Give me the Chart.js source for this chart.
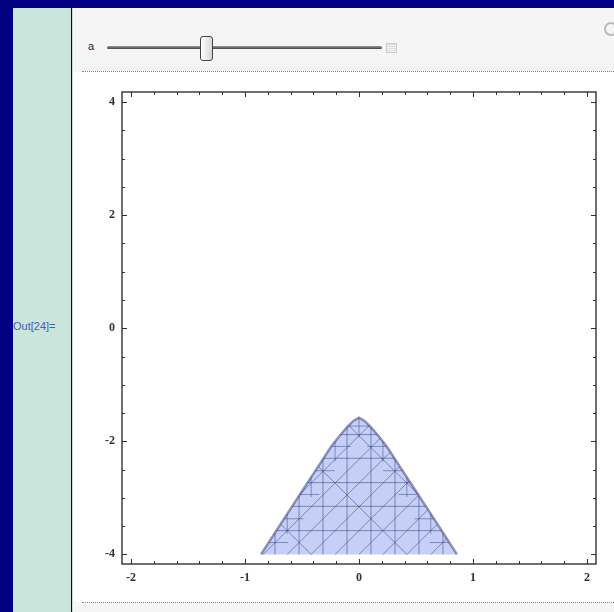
<!DOCTYPE html>
<html>
<head>
<meta charset="utf-8">
<script src="https://cdn.jsdelivr.net/npm/chart.js@4.4.0/dist/chart.umd.min.js"></script>
<style>
html, body { margin: 0; padding: 0; }
body { width: 614px; height: 612px; background: #000080; position: relative; overflow: hidden; font-family: "Liberation Sans", Arial, sans-serif; }
#strip { position: absolute; left: 13px; top: 8px; width: 58px; height: 604px; background: #c9e5dc; }
#panel { position: absolute; left: 72px; top: 8px; width: 542px; height: 604px; background: #f5f5f5; border-left: 1px solid #d4d8d8; }
#plotbox { position: absolute; left: 73px; top: 72px; width: 541px; height: 530px; background: #fff; }
#out { position: absolute; left: 13px; top: 320px; font-size: 11px; color: #4a5ea6; }
#alabel { position: absolute; left: 88px; top: 40px; font-size: 11px; color: #222; }
#track { position: absolute; left: 107px; top: 46px; width: 275px; height: 3px; background: linear-gradient(#999, #444); border-radius: 2px; }
#thumb { position: absolute; left: 200px; top: 36px; width: 11px; height: 23px; border: 1px solid #444; border-radius: 3px; background: linear-gradient(90deg, #fff, #d6d6d6); }
#btn { position: absolute; left: 386px; top: 43px; width: 9px; height: 8px; border: 1px solid #ccc; background: repeating-linear-gradient(#ddd 0 1px, #f4f4f4 1px 2px); }
#icon { position: absolute; left: 604px; top: 22px; width: 10px; height: 10px; border: 2px solid #bbb; border-radius: 50%; }
.dots { position: absolute; left: 82px; width: 532px; height: 0; border-top: 1px dotted #8a8a8a; }
#c { position: absolute; left: 72px; top: 72px; }
</style>
</head>
<body>
<div id="strip"></div>
<div id="panel"></div>
<div id="plotbox"></div>
<div id="out">Out[24]=</div>
<div id="alabel">a</div>
<div id="track"></div>
<div id="thumb"></div>
<div id="btn"></div>
<div id="icon"></div>
<div class="dots" style="top:71px"></div>
<div class="dots" style="top:602px"></div>
<canvas id="c" width="542" height="530"></canvas>
<script>
// axis ticks
const xTickLabels = [-2, -1, 0, 1, 2];
const yTickLabels = [-4, -2, 0, 2, 4];
const xMinorTicks = [-2, -1.8, -1.6, -1.4, -1.2, -1, -0.8, -0.6, -0.4, -0.2, 0, 0.2, 0.4, 0.6, 0.8, 1, 1.2, 1.4, 1.6, 1.8, 2];
const yMinorTicks = [-4, -3.5, -3, -2.5, -2, -1.5, -1, -0.5, 0, 0.5, 1, 1.5, 2, 2.5, 3, 3.5, 4];

// region outline (upper boundary, base is y = -4)
const regionX = [-0.86, -0.7, -0.5, -0.35, -0.25, -0.17, -0.1, -0.05, 0, 0.05, 0.1, 0.17, 0.25, 0.35, 0.5, 0.7, 0.86];
const regionY = [-4, -3.5, -2.88, -2.42, -2.11, -1.9, -1.74, -1.64, -1.58, -1.64, -1.74, -1.9, -2.11, -2.42, -2.88, -3.5, -4];

// mesh lines
const meshVX = [-0.737, -0.526, -0.316, -0.105, 0.105, 0.316, 0.526, 0.737];
const meshHY = [-3.58, -3.15, -2.73, -2.3, -1.88];
const meshDiagUp = [-1.26, -1.05, -0.84, -0.63, -0.42, -0.21, 0, 0.21, 0.42, 0.63];
const meshDiagDown = [-0.42, 0.42, 1.05];
// finer mesh near the boundary
const meshVXFine = [-0.63, -0.42, -0.21, 0, 0.21, 0.42, 0.63];
const meshHYFine = [-3.79, -3.37, -2.94, -2.52, -2.09, -1.73];

function topY(x) {
    if (x < regionX[0] || x > regionX[regionX.length - 1]) return -Infinity;
    for (let i = 0; i < regionX.length - 1; i++) {
        if (x >= regionX[i] && x <= regionX[i + 1]) {
            const t = (x - regionX[i]) / (regionX[i + 1] - regionX[i]);
            return regionY[i] + t * (regionY[i + 1] - regionY[i]);
        }
    }
    return -Infinity;
}

// keep the part of a line that lies inside the region
function clipSegment(x0, y0, dx, dy, tMax) {
    let first = null, last = null;
    for (let t = 0; t <= tMax; t += 0.002) {
        const x = x0 + dx * t, y = y0 + dy * t;
        if (y >= -4 - 1e-9 && y <= topY(x)) {
            if (!first) first = { x, y };
            last = { x, y };
        }
    }
    return first ? [first, last] : null;
}

const segments = [];
meshVX.forEach(c => segments.push(clipSegment(c, -4, 0, 1, 3)));
meshHY.forEach(h => segments.push(clipSegment(-1, h, 1, 0, 2)));
meshDiagUp.forEach(c => segments.push(clipSegment(c, -4, 1, 2, 2)));
meshDiagDown.forEach(c => segments.push(clipSegment(c, -4, -1, 2, 2)));

const fineSegments = [];
meshHYFine.forEach(h => {
    const s = clipSegment(-1, h, 1, 0, 2);
    if (!s) return;
    const w = Math.min(0.17, (s[1].x - s[0].x) / 2);
    fineSegments.push([s[0], { x: s[0].x + w, y: h }]);
    fineSegments.push([{ x: s[1].x - w, y: h }, s[1]]);
});
meshVXFine.forEach(c => {
    const s = clipSegment(c, -4, 0, 1, 3);
    if (!s) return;
    fineSegments.push([{ x: c, y: Math.max(-4, s[1].y - 0.35) }, s[1]]);
});

const datasets = [{
    data: regionX.map((x, i) => ({ x: x, y: regionY[i] })),
    fill: { value: -4 },
    backgroundColor: 'rgb(198,207,245)',
    borderColor: 'rgba(60,70,135,0.55)',
    borderWidth: 2.5,
    pointRadius: 0,
    tension: 0,
    order: 3
}];
segments.filter(s => s).forEach(s => datasets.push({
    data: s,
    borderColor: 'rgba(45,55,115,0.5)',
    borderWidth: 1,
    pointRadius: 0,
    fill: false,
    order: 2
}));
fineSegments.forEach(s => datasets.push({
    data: s,
    borderColor: 'rgba(45,55,115,0.45)',
    borderWidth: 1,
    pointRadius: 0,
    fill: false,
    order: 1
}));

const frameTicks = {
    id: 'frameTicks',
    afterDatasetsDraw(chart) {
        const { ctx, chartArea: a, scales } = chart;
        ctx.save();
        ctx.strokeStyle = '#333';
        ctx.lineWidth = 1;
        ctx.beginPath();
        xMinorTicks.forEach(v => {
            const px = Math.round(scales.x.getPixelForValue(v)) + 0.5;
            const len = xTickLabels.includes(v) ? 5 : 3;
            ctx.moveTo(px, a.bottom); ctx.lineTo(px, a.bottom - len);
            ctx.moveTo(px, a.top); ctx.lineTo(px, a.top + len);
        });
        yMinorTicks.forEach(v => {
            const py = Math.round(scales.y.getPixelForValue(v)) + 0.5;
            const len = yTickLabels.includes(v) ? 5 : 3;
            ctx.moveTo(a.left, py); ctx.lineTo(a.left + len, py);
            ctx.moveTo(a.right, py); ctx.lineTo(a.right - len, py);
        });
        ctx.stroke();
        ctx.strokeStyle = '#222';
        ctx.lineWidth = 1.3;
        ctx.strokeRect(a.left, a.top, a.right - a.left, a.bottom - a.top);
        ctx.restore();
    }
};

const tickFont = { family: '"Liberation Serif", "DejaVu Serif", serif', size: 12, weight: 'bold' };

new Chart(document.getElementById('c'), {
    type: 'line',
    data: { datasets: datasets },
    options: {
        responsive: false,
        animation: false,
        layout: { padding: { left: 0, top: 20, right: 18, bottom: 0 } },
        plugins: { legend: { display: false }, tooltip: { enabled: false } },
        scales: {
            x: {
                type: 'linear',
                min: -2.08, max: 2.08,
                afterBuildTicks: s => { s.ticks = xTickLabels.map(v => ({ value: v })); },
                afterFit: s => { s.height = 38; },
                grid: { display: false, drawTicks: false },
                border: { display: false },
                ticks: { font: tickFont, color: '#333', padding: 7, maxRotation: 0, autoSkip: false }
            },
            y: {
                type: 'linear',
                min: -4.17, max: 4.18,
                afterBuildTicks: s => { s.ticks = yTickLabels.map(v => ({ value: v })); },
                afterFit: s => { s.width = 50; },
                grid: { display: false, drawTicks: false },
                border: { display: false },
                ticks: { font: tickFont, color: '#333', padding: 7, autoSkip: false }
            }
        }
    },
    plugins: [frameTicks]
});
</script>
</body>
</html>
